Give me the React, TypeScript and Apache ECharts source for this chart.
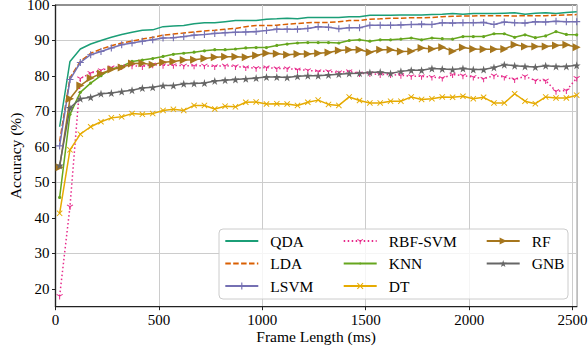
import React, { useEffect, useRef } from 'react';
import * as echarts from 'echarts';

const frameLengths = [20, 70, 120, 170, 220, 270, 320, 370, 420, 470, 520, 570, 620, 670, 720, 770, 820, 870, 920, 970, 1020, 1070, 1120, 1170, 1220, 1270, 1320, 1370, 1420, 1470, 1520, 1570, 1620, 1670, 1720, 1770, 1820, 1870, 1920, 1970, 2020, 2070, 2120, 2170, 2220, 2270, 2320, 2370, 2420, 2470, 2520];

const qda = [65.7, 84.1, 87.6, 89.0, 90.0, 90.9, 91.7, 92.3, 92.9, 93.0, 93.9, 94.1, 94.2, 94.7, 95.0, 95.0, 95.3, 95.6, 95.6, 95.6, 96.0, 96.1, 96.3, 96.1,
  96.5, 96.5, 96.5, 96.5, 96.7, 96.7, 97.1, 97.1, 97.1, 97.2, 97.2, 97.2, 97.3, 97.4, 97.6, 97.4, 97.6, 97.6, 97.6, 97.7, 97.8, 97.4, 97.7, 97.8, 97.6, 97.9, 98.1];
const lda = [61.5, 79.5, 84.1, 86.4, 87.6, 88.5, 89.3, 89.8, 90.4, 90.9, 91.5, 91.8, 92.1, 92.4, 92.7, 92.9, 93.2, 93.4, 93.9, 94.2, 94.2, 94.3, 94.6, 94.8,
  95.0, 95.1, 95.1, 95.3, 95.6, 95.6, 96.0, 96.1, 96.3, 96.3, 96.4, 96.4, 96.5, 96.7, 96.8, 96.9, 96.9, 97.0, 97.0, 97.0, 96.9, 97.0, 97.0, 97.0, 97.1, 97.2, 97.3];
const lsvm = [60.3, 79.0, 83.8, 86.0, 86.9, 87.9, 88.8, 89.3, 89.8, 90.2, 90.7, 90.8, 91.1, 91.5, 91.7, 92.0, 92.2, 92.3, 92.4, 92.5, 92.8, 93.2, 93.2, 93.2,
  93.4, 93.9, 93.7, 93.3, 93.6, 93.6, 94.3, 94.3, 94.3, 94.4, 94.5, 94.6, 94.5, 95.0, 94.9, 95.0, 95.0, 95.1, 94.5, 95.2, 95.0, 94.9, 95.3, 95.2, 95.4, 95.3, 95.3];
const rbfSvm = [18.0, 43.2, 79.3, 80.8, 81.6, 82.4, 82.7, 82.9, 82.7, 83.2, 83.0, 83.0, 82.9, 82.9, 82.9, 82.7, 82.9, 82.7, 82.4, 82.2, 82.4, 82.1, 82.1, 81.8,
  81.6, 81.3, 81.3, 81.0, 81.3, 80.7, 80.7, 80.4, 80.4, 80.2, 79.9, 79.9, 79.7, 79.4, 80.4, 80.1, 79.7, 79.2, 80.1, 79.7, 79.0, 79.9, 78.7, 78.7, 75.7, 75.9, 79.4];
const knn = [45.8, 69.2, 75.4, 78.0, 80.1, 82.0, 82.7, 84.1, 84.5, 84.9, 85.5, 86.1, 86.4, 86.7, 87.1, 87.4, 87.4, 87.6, 87.9, 88.0, 88.0, 88.6, 89.0, 89.3,
  89.4, 89.4, 89.4, 89.3, 90.0, 90.2, 89.8, 90.2, 90.2, 90.4, 90.7, 90.2, 90.7, 90.5, 90.4, 91.1, 91.1, 91.1, 91.9, 91.9, 90.9, 91.6, 90.8, 91.3, 92.5, 91.7, 91.6];
const dt = [41.3, 59.2, 63.6, 65.7, 67.1, 68.2, 68.5, 69.4, 69.2, 69.4, 70.3, 70.6, 70.3, 71.7, 71.7, 70.7, 71.5, 71.3, 72.6, 72.7, 72.1, 72.2, 72.1, 71.7,
  72.6, 73.2, 72.0, 71.7, 74.1, 73.1, 72.4, 72.4, 72.9, 72.9, 74.1, 73.4, 73.6, 74.1, 74.0, 74.3, 73.6, 74.0, 72.4, 72.4, 75.0, 72.9, 72.2, 74.1, 73.8, 73.8, 74.6];
const rf = [54.3, 73.6, 77.3, 79.4, 80.7, 81.8, 82.4, 83.5, 83.6, 83.2, 83.9, 84.1, 84.5, 84.6, 84.9, 85.3, 85.4, 85.4, 85.3, 85.8, 86.4, 86.3, 86.0, 86.2,
  86.2, 86.4, 86.6, 87.2, 87.4, 87.4, 86.7, 87.4, 87.4, 86.9, 87.0, 87.9, 87.6, 88.1, 87.0, 88.0, 87.6, 87.5, 87.5, 87.6, 88.8, 88.3, 88.3, 88.3, 88.6, 88.8, 88.1];
const gnb = [54.8, 71.0, 73.6, 74.0, 75.0, 75.2, 75.6, 76.0, 76.6, 76.8, 77.3, 77.3, 77.8, 77.9, 78.0, 78.6, 78.8, 79.0, 79.2, 79.4, 79.7, 79.7, 79.6, 79.9,
  80.1, 80.1, 80.3, 80.5, 80.7, 80.8, 81.0, 81.1, 80.7, 81.3, 81.6, 81.6, 82.1, 82.0, 81.8, 82.1, 81.8, 81.8, 82.4, 83.2, 82.9, 82.7, 82.5, 82.9, 82.7, 82.7, 83.0];

const yTicks = [20, 30, 40, 50, 60, 70, 80, 90, 100];
const xTicks = [0, 500, 1000, 1500, 2000, 2500];

const FONT = 'Liberation Serif, serif';

const PLUS = 'path://M4.2,0H5.8V4.2H10V5.8H5.8V10H4.2V5.8H0V4.2H4.2Z';
const CROSS = 'path://M1.1,0L5,3.9L8.9,0L10,1.1L6.1,5L10,8.9L8.9,10L5,6.1L1.1,10L0,8.9L3.9,5L0,1.1Z';
const TRI_DOWN = 'path://M0,0M10,10M4.3,5.4L4.3,10L5.7,10L5.7,5.4L9.68,3.1L8.98,1.9L5,4.2L1.02,1.9L0.32,3.1Z';
const STAR = 'path://M5,0L6.18,3.62L10,3.62L6.91,5.86L8.09,9.48L5,7.24L1.91,9.48L3.09,5.86L0,3.62L3.82,3.62Z';
const DOT = 'path://M0,0M10,10M5,3.4A1.6,1.6,0,1,1,5,6.6A1.6,1.6,0,1,1,5,3.4Z';

type Spec = { name: string; vals: number[]; color: string; symbol: string; size: number; rotate?: number; dash?: any };

const specs: Spec[] = [
  { name: 'QDA', vals: qda, color: '#1b9e77', symbol: 'none', size: 0 },
  { name: 'LDA', vals: lda, color: '#d95f02', symbol: 'none', size: 0, dash: [5.5, 2.4] },
  { name: 'LSVM', vals: lsvm, color: '#7570b3', symbol: PLUS, size: 7 },
  { name: 'RBF-SVM', vals: rbfSvm, color: '#e7298a', symbol: TRI_DOWN, size: 7, dash: [1.5, 2.5] },
  { name: 'KNN', vals: knn, color: '#66a61e', symbol: DOT, size: 10 },
  { name: 'DT', vals: dt, color: '#e6ab02', symbol: CROSS, size: 6 },
  { name: 'RF', vals: rf, color: '#a6761d', symbol: 'triangle', size: 8, rotate: -90 },
  { name: 'GNB', vals: gnb, color: '#666666', symbol: STAR, size: 8 },
];

function legendCol(names: string[], left: number, itemHeight: number) {
  return {
    orient: 'vertical',
    left,
    top: 233,
    itemWidth: 33,
    itemHeight,
    itemGap: 22 - 15.5,
    padding: 0,
    textStyle: { fontFamily: FONT, fontSize: 15.5, color: '#000', padding: [0, 0, 0, 7] },
    data: names.map((n) => {
      const s = specs.find((x) => x.name === n)!;
      return s.symbol === 'none' ? { name: n, itemStyle: { opacity: 0 } } : { name: n };
    }),
    z: 10,
  };
}

export default function App() {
  const ref = useRef<HTMLDivElement>(null);
  useEffect(() => {
    document.body.style.margin = '0';
    const chart = echarts.init(ref.current!, null, { renderer: 'svg' });
    const option: any = {
      animation: false,
      backgroundColor: '#fff',
      grid: { left: 55.5, right: 11.3, top: 5, bottom: 45.3, show: true, borderColor: '#222', borderWidth: 1.2, backgroundColor: 'transparent', containLabel: false, outerBoundsMode: 'none' },
      xAxis: {
        type: 'value', min: 0, max: 2520, interval: 500,
        name: 'Frame Length (ms)', nameLocation: 'middle', nameGap: 21.5, nameMoveOverlap: false,
        nameTextStyle: { fontFamily: FONT, fontSize: 15.5, color: '#000' },
        axisLine: { show: true, lineStyle: { color: '#222', width: 1.2 } },
        axisTick: { show: true, inside: false, length: 3.5, lineStyle: { color: '#222' } },
        axisLabel: { fontFamily: FONT, fontSize: 15, color: '#000', margin: 6, showMaxLabel: false,
          formatter: (v: number) => (xTicks.includes(v) ? String(v) : '') },
        splitLine: { show: true, lineStyle: { color: '#cccccc', width: 1 } },
      },
      yAxis: {
        type: 'value', min: 15, max: 100, interval: 5,
        name: 'Accuracy (%)', nameLocation: 'middle', nameGap: 32, nameMoveOverlap: false,
        nameTextStyle: { fontFamily: FONT, fontSize: 15.5, color: '#000' },
        axisLine: { show: true, lineStyle: { color: '#222', width: 1.2 } },
        axisTick: { show: true, inside: false, length: 3.5, customValues: yTicks, lineStyle: { color: '#222' } },
        axisLabel: { fontFamily: FONT, fontSize: 15, color: '#000', margin: 6, lineHeight: 13,
          formatter: (v: number) => (yTicks.includes(v) ? String(v) : '') },
        splitLine: { show: true, lineStyle: { color: ['rgba(0,0,0,0)', '#cccccc'], width: 1 } },
      },
      legend: [
        legendCol(['QDA', 'LDA', 'LSVM'], 224.3, 9),
        legendCol(['RBF-SVM', 'KNN', 'DT'], 342.7, 8),
        legendCol(['RF', 'GNB'], 485.7, 9),
      ],
      graphic: [
        { type: 'rect', z: 5, shape: { x: 219, y: 229, width: 349, height: 70, r: 4 },
          style: { fill: 'rgba(255,255,255,0.8)', stroke: '#cccccc', lineWidth: 1 } },
      ],
      series: specs.map((s) => ({
        name: s.name,
        type: 'line',
        data: frameLengths.map((f, i) => [f, s.vals[i]]),
        symbol: s.symbol,
        symbolSize: s.size,
        symbolRotate: s.rotate || 0,
        showSymbol: s.symbol !== 'none',
        color: s.color,
        itemStyle: { color: s.color, borderWidth: 0 },
        lineStyle: { color: s.color, width: 1.5, type: s.dash || 'solid' },
        clip: true,
      })),
    };
    chart.setOption(option);
    return () => chart.dispose();
  }, []);
  return <div ref={ref} style={{ width: 588, height: 352 }} />;
}
